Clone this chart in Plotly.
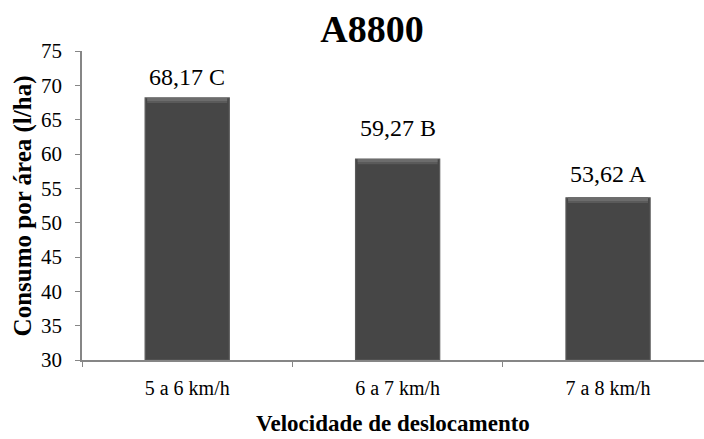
import plotly.graph_objects as go

# Fuel consumption per area by travel speed (A8800)
categorias = ["5 a 6 km/h", "6 a 7 km/h", "7 a 8 km/h"]
consumo = [68.17, 59.27, 53.62]
letras = ["C", "B", "A"]
yticks = [30, 35, 40, 45, 50, 55, 60, 65, 70, 75]

FONT = "Liberation Serif, Times New Roman, serif"
AXIS_GRAY = "#868686"

fig = go.Figure()

# main bars
fig.add_trace(go.Bar(
    x=categorias,
    y=[v - 30 for v in consumo],
    base=30,
    width=0.40,
    marker=dict(color="#464646", line=dict(color="#5a5a5a", width=1.2)),
    hoverinfo="skip",
    showlegend=False,
))

# lighter bevel strips along the top edge of each bar
for h, col in [(0.75, "#5a5a5a"), (0.45, "#6c6c6c")]:
    fig.add_trace(go.Bar(
        x=categorias,
        y=[h] * len(consumo),
        base=[v - h for v in consumo],
        width=0.38,
        marker=dict(color=col, line=dict(width=0)),
        hoverinfo="skip",
        showlegend=False,
    ))

fig.update_layout(barmode="overlay")

# value labels with significance letters
label_shift = [6, 16, 9]
for cat, v, l, s in zip(categorias, consumo, letras, label_shift):
    fig.add_annotation(
        x=cat, y=v, xref="x", yref="y",
        text=f"{v:.2f}".replace(".", ",") + f" {l}",
        showarrow=False, yanchor="bottom", yshift=s,
        font=dict(family=FONT, size=24, color="#000000"),
    )

fig.add_annotation(
    text="<b>Consumo por área (l/ha)</b>", textangle=-90,
    xref="paper", yref="paper", x=-0.095, y=0.5,
    xanchor="center", yanchor="middle", showarrow=False,
    font=dict(family=FONT, size=25, color="#000000"),
)
fig.add_annotation(
    text="<b>Velocidade de deslocamento</b>",
    xref="paper", yref="paper", x=0.5, y=-0.204,
    xanchor="center", yanchor="middle", showarrow=False,
    font=dict(family=FONT, size=23, color="#000000"),
)

fig.update_layout(
    width=704, height=439,
    margin=dict(l=82, r=0, t=51, b=79),
    paper_bgcolor="#ffffff", plot_bgcolor="#ffffff",
    title=dict(
        text="<b>A8800</b>", x=372 / 704, xref="container", xanchor="center",
        y=1 - 29 / 439, yref="container", yanchor="middle",
        font=dict(family=FONT, size=38, color="#000000"),
    ),
    xaxis=dict(
        range=[-0.5, 2.456],
        showline=True, linecolor=AXIS_GRAY, linewidth=1.5,
        ticks="outside", tickson="boundaries", ticklen=5, tickcolor=AXIS_GRAY,
        showgrid=False, zeroline=False,
        tickfont=dict(family=FONT, size=20, color="#000000"),
        ticklabelstandoff=9,
    ),
    yaxis=dict(
        range=[30, 75], tickvals=yticks,
        showline=True, linecolor=AXIS_GRAY, linewidth=1.5,
        ticks="outside", ticklen=5, tickcolor=AXIS_GRAY,
        showgrid=False, zeroline=False,
        tickfont=dict(family=FONT, size=21, color="#000000"),
        ticklabelstandoff=9,
    ),
)

fig.write_html("out.html")
